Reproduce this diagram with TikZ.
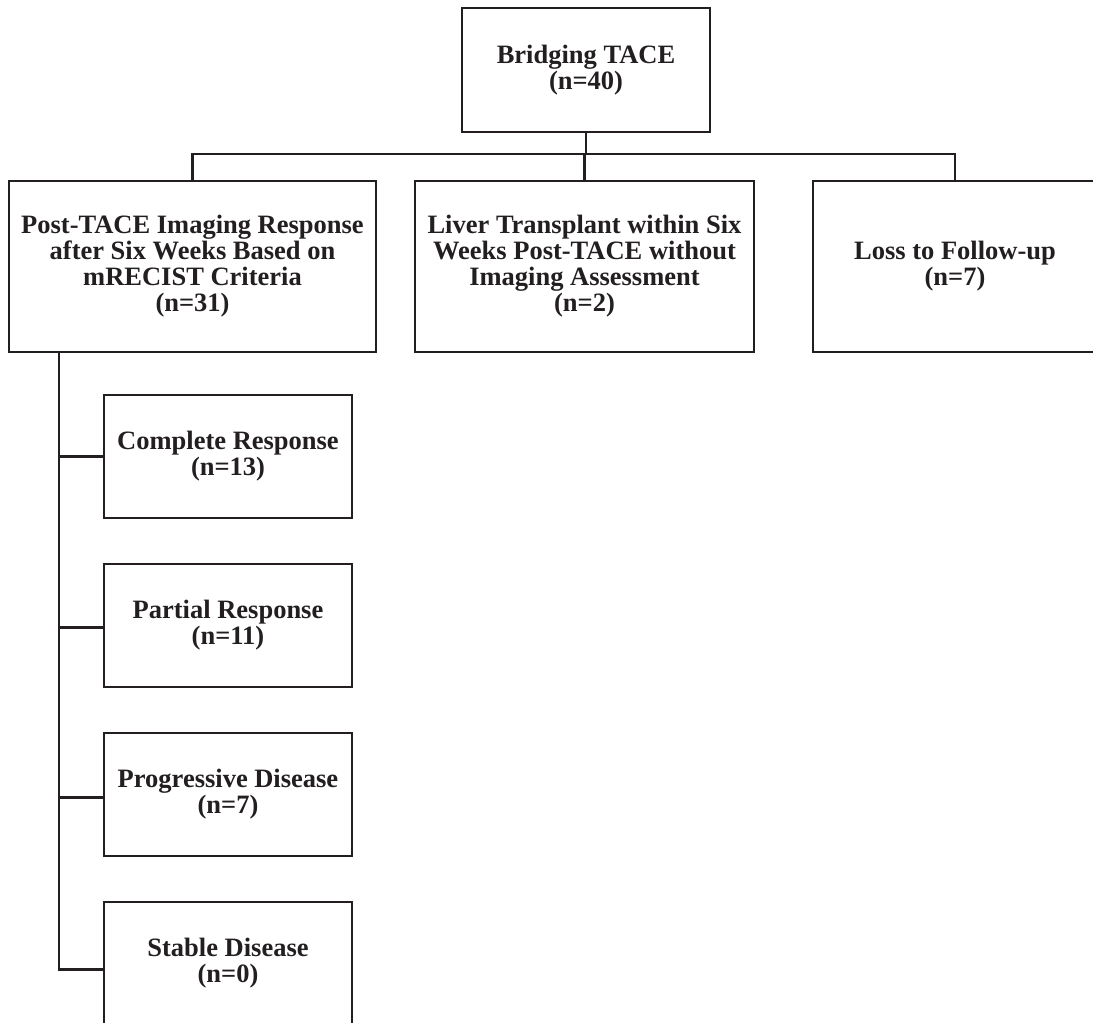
\documentclass[tikz,border=0pt]{standalone}
\usepackage{fontspec}
\setmainfont{Liberation Serif}
\definecolor{ink}{HTML}{231F20}
\begin{document}
\begin{tikzpicture}[x=1pt,y=-1pt,
  box/.style={draw=ink, line width=2.8pt, align=center,
    font=\bfseries\fontsize{26.5}{26}\selectfont, text=ink,
    inner sep=0pt, outer sep=0pt, anchor=north west},
  conn/.style={draw=ink, line width=2.8pt}]
\useasboundingbox (0,0) rectangle (1093,1023);
\clip (0,0) rectangle (1093,1023);
\fill[white] (0,0) rectangle (1093,1023);

\node[box, minimum width=248pt, minimum height=124pt] (top) at (462,8) {Bridging TACE\\(n=40)};
\node[box, minimum width=367pt, minimum height=171pt] (L) at (9,181)
  {Post-TACE Imaging Response\\after Six Weeks Based on\\mRECIST Criteria\\(n=31)};
\node[box, minimum width=339pt, minimum height=171pt] (M) at (415,181)
  {Liver Transplant within Six\\Weeks Post-TACE without\\Imaging Assessment\\(n=2)};
\node[box, minimum width=284pt, minimum height=171pt] (R) at (813,181)
  {Loss to Follow-up\\(n=7)};

\node[box, minimum width=248pt, minimum height=123pt] (cr) at (104,395) {Complete Response\\(n=13)};
\node[box, minimum width=248pt, minimum height=123pt] (pr) at (104,564) {Partial Response\\(n=11)};
\node[box, minimum width=248pt, minimum height=123pt] (pd) at (104,733) {Progressive Disease\\(n=7)};
\node[box, minimum width=248pt, minimum height=123pt] (sd) at (104,902) {Stable Disease\\(n=0)};

\coordinate (busy) at (0,154);
\coordinate (bus) at (top.south |- busy);
\draw[conn] (top.south) -- (bus);
\draw[conn] (bus) -| (L.north);
\draw[conn] (bus) -| (M.north);
\draw[conn] (bus) -| (R.north);

\coordinate (trunk) at ([xshift=50pt]L.south west);
\draw[conn] (trunk) |- (cr.west);
\draw[conn] (trunk) |- ([yshift=-2pt]pr.west);
\draw[conn] (trunk) |- ([yshift=-3pt]pd.west);
\draw[conn] (trunk) |- ([yshift=-6pt]sd.west);
\end{tikzpicture}
\end{document}
